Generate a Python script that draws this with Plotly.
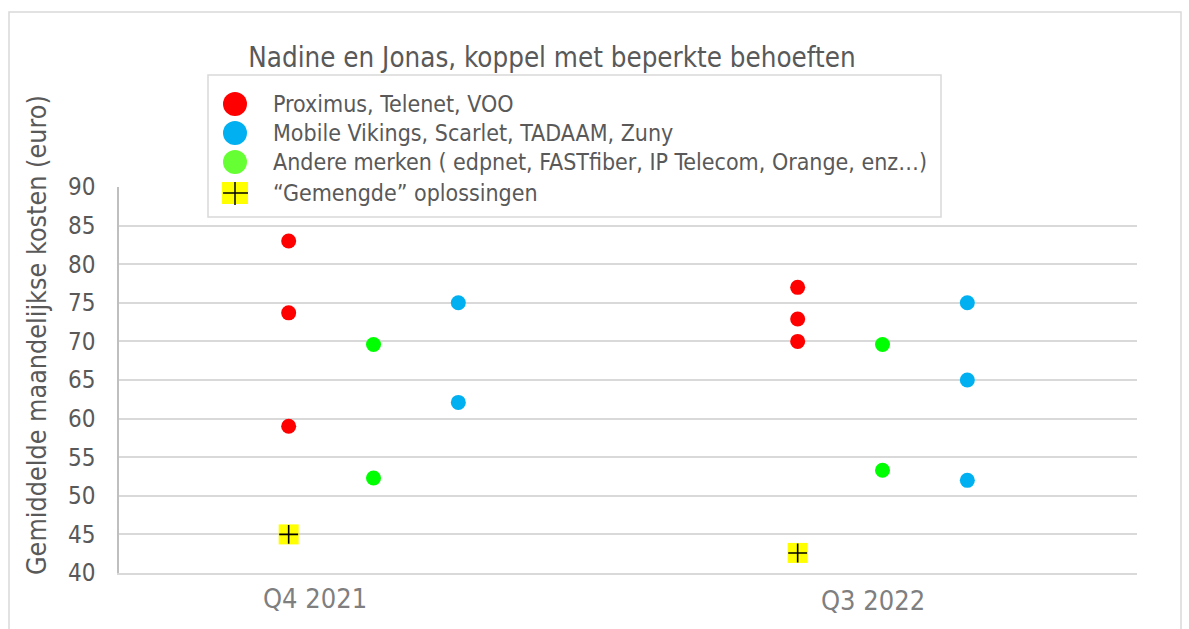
import plotly.graph_objects as go

# ---- data -------------------------------------------------------------
periods = ["Q4 2021", "Q3 2022"]

# Proximus, Telenet, VOO
big3_q4 = [83.0, 73.7, 59.0]
big3_q3 = [77.0, 72.9, 70.0]
# Andere merken
other_q4 = [69.6, 52.3]
other_q3 = [69.6, 53.3]
# Mobile Vikings, Scarlet, TADAAM, Zuny
mid_q4 = [75.0, 62.1]
mid_q3 = [75.0, 65.0, 52.0]
# "Gemengde" oplossingen
mixed = [45.0, 42.6]

legend_labels = [
    "Proximus, Telenet, VOO",
    "Mobile Vikings, Scarlet, TADAAM, Zuny",
    "Andere merken ( edpnet, FASTfiber, IP Telecom, Orange, enz…)",
    "\u201cGemengde\u201d oplossingen",
]

title_text = "Nadine en Jonas, koppel met beperkte behoeften"
y_title = "Gemiddelde maandelijkse kosten (euro)"

# ---- style ------------------------------------------------------------
FONT = "DejaVu Sans Condensed, Liberation Sans, Arial, sans-serif"
TXT = "#595959"
GRID = "#d9d9d9"
RED, BLUE, GREEN, GREEN_LEG, YELLOW = "#ff0000", "#00b0f0", "#00ff00", "#66ff33", "#ffff00"

W, H = 1189, 629
L, R, T, B = 119, 52, 187, 56
PW, PH = W - L - R, H - T - B

def px(x):  # pixel -> paper x
    return (x - L) / PW

def py(y):  # pixel -> paper y
    return (H - B - y) / PH

# within each period, groups are spread across the category band
OFF = {"big3": -1 / 6, "other": 0.0, "mid": 1 / 6}

def xs(i, n, grp):
    return [i + OFF[grp]] * n

fig = go.Figure()

dot = dict(size=15, line=dict(width=0))
fig.add_trace(go.Scatter(
    x=xs(0, len(big3_q4), "big3") + xs(1, len(big3_q3), "big3"),
    y=big3_q4 + big3_q3, mode="markers",
    marker=dict(color=RED, **dot), name=legend_labels[0]))
fig.add_trace(go.Scatter(
    x=xs(0, len(mid_q4), "mid") + xs(1, len(mid_q3), "mid"),
    y=mid_q4 + mid_q3, mode="markers",
    marker=dict(color=BLUE, **dot), name=legend_labels[1]))
fig.add_trace(go.Scatter(
    x=xs(0, len(other_q4), "other") + xs(1, len(other_q3), "other"),
    y=other_q4 + other_q3, mode="markers",
    marker=dict(color=GREEN, **dot), name=legend_labels[2]))
mixed_x = [i + OFF["big3"] for i in range(len(periods))]
fig.add_trace(go.Scatter(
    x=mixed_x, y=mixed, mode="markers",
    marker=dict(symbol="square", size=20, color=YELLOW, line=dict(width=0)),
    name=legend_labels[3]))
fig.add_trace(go.Scatter(
    x=mixed_x, y=mixed, mode="markers", showlegend=False,
    marker=dict(symbol="cross-thin", size=13.5, color="black",
                line=dict(color="black", width=1.6))))

# ---- period labels under the axis ----------------------------------------
label_pos = [(-0.115, 598), (0.981, 600)]
annotations = []
for name, (xv, ypix) in zip(periods, label_pos):
    annotations.append(dict(
        x=xv, xref="x", y=py(ypix), yref="paper", text=name, showarrow=False,
        xanchor="center", yanchor="middle",
        font=dict(family=FONT, size=27, color="#7f7f7f")))

# y-axis title
annotations.append(dict(
    x=px(36), y=py(335), xref="paper", yref="paper", text=y_title,
    textangle=-90, showarrow=False, xanchor="center", yanchor="middle",
    font=dict(family=FONT, size=26.7, color=TXT)))

# ---- legend box -------------------------------------------------------
shapes = [
    # outer frame of the chart
    dict(type="rect", xref="paper", yref="paper", layer="below",
         x0=px(9), x1=px(1181), y0=py(12), y1=py(640),
         line=dict(color=GRID, width=1.5), fillcolor="rgba(0,0,0,0)"),
    dict(type="rect", xref="paper", yref="paper", layer="above",
         x0=px(208), x1=px(941), y0=py(217), y1=py(75),
         line=dict(color=GRID, width=1.5), fillcolor="white"),
]
row_y = [104, 133, 162, 193]
sym_x = 235
for col, yy in zip([RED, BLUE, GREEN_LEG], row_y[:3]):
    shapes.append(dict(type="circle", xref="paper", yref="paper", layer="above",
                       x0=px(sym_x - 12), x1=px(sym_x + 12),
                       y0=py(yy + 12), y1=py(yy - 12),
                       fillcolor=col, line=dict(width=0)))
yy = row_y[3]
shapes.append(dict(type="rect", xref="paper", yref="paper", layer="above",
                   x0=px(sym_x - 13), x1=px(sym_x + 13),
                   y0=py(yy + 11), y1=py(yy - 11),
                   fillcolor=YELLOW, line=dict(width=0)))
shapes.append(dict(type="line", xref="paper", yref="paper", layer="above",
                   x0=px(sym_x - 12), x1=px(sym_x + 13), y0=py(yy), y1=py(yy),
                   line=dict(color="black", width=1.5)))
shapes.append(dict(type="line", xref="paper", yref="paper", layer="above",
                   x0=px(sym_x), x1=px(sym_x), y0=py(yy + 12), y1=py(yy - 11),
                   line=dict(color="black", width=1.5)))
for lab, yy in zip(legend_labels, row_y):
    annotations.append(dict(
        x=px(271), y=py(yy), xref="paper", yref="paper", text=lab,
        showarrow=False, xanchor="left", yanchor="middle",
        font=dict(family=FONT, size=23, color=TXT)))

fig.update_layout(
    width=W, height=H,
    margin=dict(l=L, r=R, t=T, b=B),
    paper_bgcolor="white", plot_bgcolor="white",
    showlegend=False,
    title=dict(text=title_text, xref="container", yref="container",
               x=552 / W, y=1 - 57 / H, xanchor="center", yanchor="middle",
               font=dict(family=FONT, size=27.5, color=TXT)),
    xaxis=dict(range=[-0.5, len(periods) - 0.5], showgrid=False, zeroline=False,
               showticklabels=False, showline=True, linecolor=GRID, linewidth=1.5,
               fixedrange=True),
    yaxis=dict(range=[40, 90], dtick=5, tick0=40, showgrid=True, gridcolor=GRID,
               gridwidth=1.5, zeroline=False, showline=True, linecolor="#bfbfbf",
               linewidth=1.5, ticks="", ticklabelstandoff=17,
               tickfont=dict(family=FONT, size=24, color=TXT), fixedrange=True),
    shapes=shapes,
    annotations=annotations,
)

fig.write_html("out.html")
